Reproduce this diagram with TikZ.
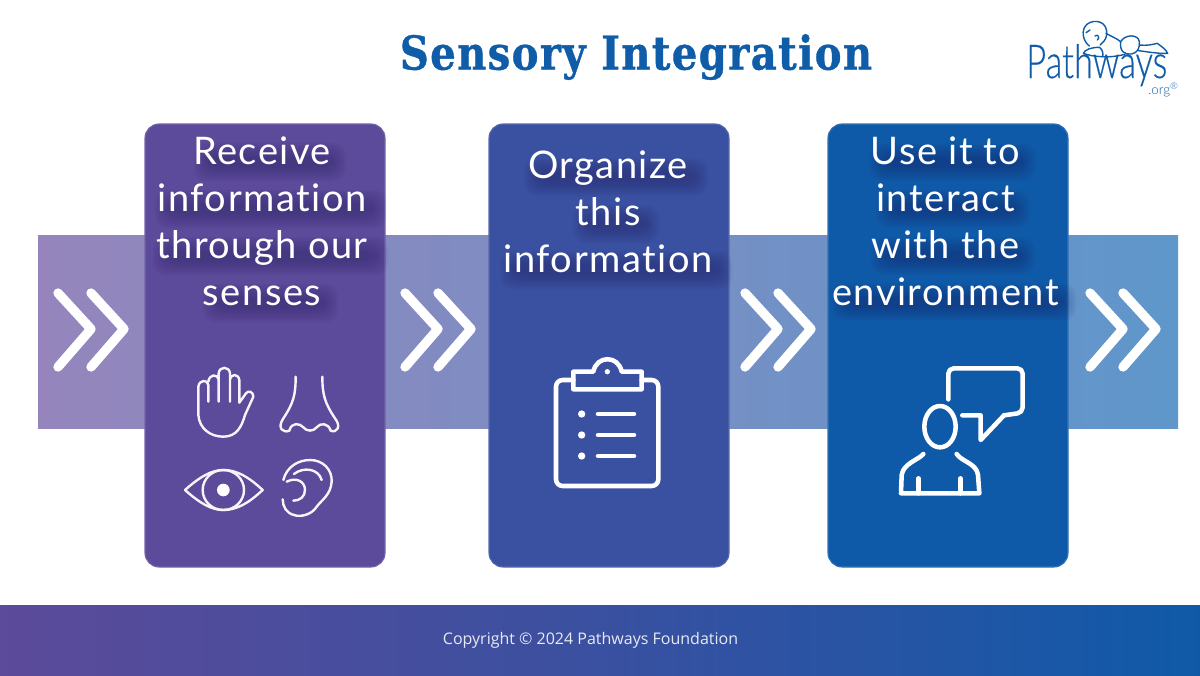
\documentclass[tikz,border=0pt]{standalone}
\usepackage{fontspec}
\setmainfont{Lato}
\newfontfamily\titlefont[FakeStretch=0.86,LetterSpace=3,FakeBold=0.8]{DejaVu Serif Bold}
\newfontfamily\cardfont[LetterSpace=4,Ligatures=NoCommon]{Lato}
\newfontfamily\logofont[FakeStretch=0.74,FakeBold=0.25,Ligatures=NoCommon]{Lato Light}
\newfontfamily\orgfont{Lato Light}
\newfontfamily\footfont{Open Sans}
\usetikzlibrary{shadings}
\definecolor{cardA}{HTML}{5C4A9A}
\definecolor{cardB}{HTML}{3A50A0}
\definecolor{cardC}{HTML}{0F5AA8}
\definecolor{bandL}{HTML}{9585BC}
\definecolor{bandR}{HTML}{5F97CB}
\definecolor{brand}{HTML}{0F5CA8}
\definecolor{shadowc}{HTML}{221A58}
\tikzset{
  cardbox/.style={rounded corners=10.5pt,minimum width=180pt,minimum height=332.25pt,inner sep=0pt,draw=#1!85!white,line width=.8pt,fill=#1},
  cardtext/.style={text=white,align=center,font=\cardfont\fontsize{28.5}{35.25}\selectfont,inner sep=0pt},
  chev/.style={draw=white,line width=7pt,line cap=round,line join=round},
  icon/.style={draw=white!94!cardA,line width=1.8pt,line cap=round,line join=round,fill=none},
  iconb/.style={draw=white,line width=3.4pt,line cap=round,line join=round,fill=none},
  babyline/.style={draw=brand,line width=1.05pt,line cap=round,line join=round,fill=none},
}
\newcommand{\chevrons}[1]{%
  \draw[chev,shift={(#1,0)}] (58,293) -- (91,329) -- (58,367);
  \draw[chev,shift={(#1,0)}] (91,293) -- (124,329) -- (91,367);
}
\newcommand{\softline}[3]{%
  \foreach \g in {0,2,4,6,8,10,12,14}{%
    \fill[shadowc,opacity=.05,rounded corners=9pt] (#1+\g-2,#3-20+\g) rectangle (#2+18-\g,#3+18-\g);
  }%
}
\begin{document}
\begin{tikzpicture}[x=0.75pt,y=-0.75pt]
\useasboundingbox (0,0) rectangle (1200,675);
\fill[white] (0,0) rectangle (1200,675);
% band
\shade[left color=bandL,right color=bandR] (38,235) rectangle (1178,428);
% footer
\shade[left color=cardA,right color=cardC,middle color=cardB] (0,605) rectangle (1200,675);
\node[font=\footfont\fontsize{12}{14}\selectfont,text=white!88!cardB] (foot) at (590.5,640) {Copyright © 2024 Pathways Foundation};
% title
\node[font=\titlefont\fontsize{35}{38}\selectfont,text=brand] (title) at (636,57) {Sensory Integration};
% cards
\node[cardbox=cardA] (c1) at (265,345.5) {};
\node[cardbox=cardB] (c2) at (609,345.5) {};
\node[cardbox=cardC] (c3) at (948,345.5) {};
% chevrons
\chevrons{0}
\chevrons{347}
\chevrons{687}
\chevrons{1032}
% text shadows
\softline{196}{328}{163}
\softline{157}{368}{210}
\softline{155}{370}{257}
\softline{205}{320}{304}
\softline{526}{690}{178}
\softline{575}{641}{225}
\softline{502}{714}{271}
\softline{871}{1018}{163}
\softline{878}{1012}{210}
\softline{873}{1017}{257}
\softline{833}{1058}{303}
% text
\node[cardtext] (t1) at (262,221) {Receive\\information\\through our\\senses};
\node[cardtext] (t2) at (608,212) {Organize\\this\\information};
\node[cardtext] (t3) at (945.5,221) {Use it to\\interact\\with the\\environment};
% senses icons
\begin{scope}[shift={(140,340)},x=0.25pt,y=-0.25pt]
  \draw[icon] (205,185) -- (205,135) .. controls (203,118) and (178,118) .. (175,140)
    -- (175,225) .. controls (178,265) and (210,290) .. (250,290)
    .. controls (290,290) and (305,260) .. (315,225)
    -- (340,170) .. controls (340,155) and (325,150) .. (318,160) -- (298,188)
    -- (298,120) .. controls (295,100) and (272,100) .. (270,120)
    -- (270,185) -- (270,100) .. controls (268,78) and (238,78) .. (236,100)
    -- (236,185) -- (236,120) .. controls (232,100) and (208,102) .. (205,125);
  \draw[icon] (467,110) .. controls (467,165) and (460,190) .. (430,235)
    .. controls (410,265) and (430,280) .. (448,272)
    .. controls (455,245) and (480,250) .. (490,262)
    .. controls (500,275) and (520,275) .. (530,262)
    .. controls (540,248) and (565,248) .. (572,272)
    .. controls (590,280) and (605,260) .. (585,235)
    .. controls (555,190) and (547,165) .. (547,110);
  \draw[icon] (135,450) .. controls (180,410) and (215,390) .. (250,390)
    .. controls (290,390) and (325,410) .. (368,450)
    .. controls (325,490) and (290,510) .. (250,510)
    .. controls (215,510) and (180,490) .. (135,450) -- cycle;
  \draw[icon] (250,450) ellipse [x radius=62,y radius=60];
  \fill[white] (250,450) circle [radius=19];
  \draw[icon] (430,420) .. controls (440,380) and (475,360) .. (510,360)
    .. controls (550,360) and (577,390) .. (575,425)
    .. controls (572,465) and (545,480) .. (530,500)
    .. controls (515,525) and (480,532) .. (462,525)
    .. controls (440,520) and (428,500) .. (428,478);
  \draw[icon] (462,402) .. controls (490,380) and (535,385) .. (545,420);
  \draw[icon] (440,425) .. controls (470,410) and (495,425) .. (495,450)
    .. controls (495,470) and (480,482) .. (460,482);
\end{scope}
% clipboard icon
\begin{scope}[shift={(530,340)},x=0.25pt,y=-0.25pt]
  \draw[iconb,rounded corners=5pt] (130,120) -- (78,120) -- (78,438) -- (385,438) -- (385,120) -- (335,120);
  \draw[iconb] (130,148) -- (130,95) -- (190,95) .. controls (200,45) and (265,45) .. (275,95)
    -- (335,95) -- (335,148) -- cycle;
  \fill[white] (232,95) circle [radius=8];
  \foreach \yy in {222,285,348}{
    \fill[white] (155,\yy) circle [radius=11];
    \draw[iconb] (204,\yy) -- (312,\yy);
  }
\end{scope}
% person icon
\begin{scope}[shift={(880,350)},x=0.25pt,y=-0.25pt]
  \draw[iconb,rounded corners=4pt] (205,148) -- (205,55) -- (428,55) -- (428,188) -- (372,196);
  \draw[iconb] (372,196) -- (302,270) -- (302,196) -- (247,196);
  \draw[iconb] (180,230) ellipse [x radius=47,y radius=62];
  \draw[iconb] (130,312) .. controls (115,330) and (70,340) .. (65,375) -- (63,430) -- (298,430) -- (294,375)
    .. controls (290,340) and (245,335) .. (230,312);
  \draw[iconb] (115,385) -- (115,430);
  \draw[iconb] (241,385) -- (241,430);
\end{scope}
% logo
\node[font=\logofont\fontsize{35}{40}\selectfont,text=brand,anchor=base west,inner sep=0pt] (logo) at (1026,78) {Pathways};
\node[font=\orgfont\fontsize{10}{12}\selectfont,text=brand,anchor=base west,inner sep=0pt] (org) at (1148,94) {.org\textsuperscript{®}};
\begin{scope}[shift={(1000,10)},x=0.25pt,y=-0.25pt]
  \draw[babyline] (268,108) .. controls (250,95) and (240,60) .. (262,42)
    .. controls (285,25) and (325,35) .. (320,75) .. controls (318,90) and (308,98) .. (300,105);
  \draw[babyline] (258,68) -- (270,60);
  \draw[babyline] (285,78) .. controls (295,70) and (300,85) .. (292,90);
  \draw[babyline] (318,70) .. controls (335,80) and (350,85) .. (362,95);
  \draw[babyline] (362,95) .. controls (375,72) and (415,72) .. (418,95)
    .. controls (420,115) and (412,128) .. (395,132) .. controls (375,135) and (358,125) .. (362,95);
  \draw[babyline] (418,105) .. controls (440,108) and (460,103) .. (472,100)
    .. controls (485,110) and (498,118) .. (503,130) .. controls (480,132) and (440,125) .. (415,122);
  \draw[babyline] (250,130) .. controls (255,118) and (275,112) .. (298,112)
    .. controls (308,118) and (310,130) .. (308,140) .. controls (285,140) and (262,135) .. (250,130);
  \draw[babyline] (308,140) .. controls (330,142) and (355,138) .. (375,133);
\end{scope}
\end{tikzpicture}
\end{document}
